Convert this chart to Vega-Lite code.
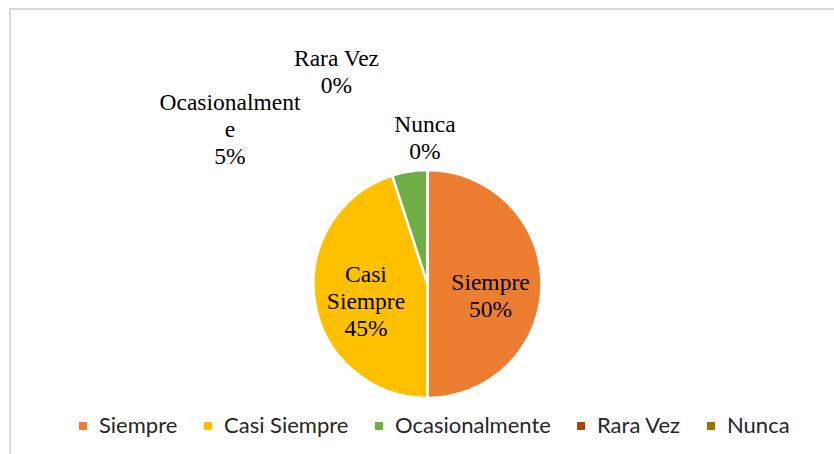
{
  "$schema": "https://vega.github.io/schema/vega-lite/v6.json",
  "width": 824,
  "height": 445,
  "autosize": {"type": "none"},
  "padding": {"left": 10, "top": 9, "right": 0, "bottom": 0},
  "background": "white",
  "config": {"view": {"stroke": null}},
  "data": {
    "values": [
      {"cat": "Siempre", "pct": 50, "order": 1, "label": ["Siempre", "50%"]},
      {"cat": "Casi Siempre", "pct": 45, "order": 2, "label": ["Casi", "Siempre", "45%"]},
      {"cat": "Ocasionalmente", "pct": 5, "order": 3, "label": ["Ocasionalment", "e", "5%"]},
      {"cat": "Rara Vez", "pct": 0, "order": 4, "label": ["Rara Vez", "0%"]},
      {"cat": "Nunca", "pct": 0, "order": 5, "label": ["Nunca", "0%"]}
    ]
  },
  "layer": [
    {
      "data": {"values": [{}]},
      "mark": {"type": "rect", "fill": null, "stroke": "#D9D9D9", "strokeWidth": 2},
      "encoding": {
        "x": {"value": 0},
        "x2": {"value": {"expr": "width + 20"}},
        "y": {"value": 0},
        "y2": {"value": {"expr": "height + 20"}}
      }
    },
    {
      "encoding": {
        "theta": {"field": "pct", "type": "quantitative", "stack": true},
        "order": {"field": "order", "type": "quantitative"},
        "detail": {"field": "cat", "type": "nominal"}
      },
      "layer": [
        {
          "mark": {"type": "arc", "outerRadius": 114, "stroke": "white", "strokeWidth": 2.5, "x": 417.5, "y": 275},
          "encoding": {
            "color": {
              "field": "cat",
              "type": "nominal",
              "scale": {
                "domain": ["Siempre", "Casi Siempre", "Ocasionalmente", "Rara Vez", "Nunca"],
                "range": ["#ED7D31", "#FFC000", "#70AD47", "#9E480E", "#997300"]
              },
              "legend": {
                "orient": "none",
                "legendX": 62,
                "legendY": 406,
                "direction": "horizontal",
                "title": null,
                "symbolType": "square",
                "symbolSize": 64,
                "symbolStrokeWidth": 0,
                "labelFont": "Lato",
                "labelFontSize": 22,
                "labelColor": "#262626",
                "labelOffset": 5,
                "columnPadding": 19,
                "labelLimit": 300
              }
            }
          }
        },
        {
          "mark": {"type": "text", "x": 417.5, "y": 275, "radius": 63, "dy": -1, "font": "Liberation Serif", "fontSize": 23.5, "lineHeight": 27, "baseline": "middle", "align": "center", "fill": "black"},
          "encoding": {"text": {"condition": {"test": "datum.cat === 'Siempre'", "field": "label"}, "value": ""}}
        },
        {
          "mark": {"type": "text", "x": 417.5, "y": 275, "radius": 62, "dx": -0.3, "dy": -18.7, "font": "Liberation Serif", "fontSize": 23.5, "lineHeight": 27, "baseline": "middle", "align": "center", "fill": "black"},
          "encoding": {"text": {"condition": {"test": "datum.cat === 'Casi Siempre'", "field": "label"}, "value": ""}}
        },
        {
          "mark": {"type": "text", "x": 417.5, "y": 275, "radius": 130, "dx": -177.2, "dy": -52.6, "font": "Liberation Serif", "fontSize": 23.5, "lineHeight": 27, "baseline": "middle", "align": "center", "fill": "black"},
          "encoding": {"text": {"condition": {"test": "datum.cat === 'Ocasionalmente'", "field": "label"}, "value": ""}}
        },
        {
          "mark": {"type": "text", "x": 417.5, "y": 275, "radius": 130, "dx": -91, "dy": -95, "font": "Liberation Serif", "fontSize": 23.5, "lineHeight": 27, "baseline": "middle", "align": "center", "fill": "black"},
          "encoding": {"text": {"condition": {"test": "datum.cat === 'Rara Vez'", "field": "label"}, "value": ""}}
        },
        {
          "mark": {"type": "text", "x": 417.5, "y": 275, "radius": 130, "dx": -2.5, "dy": -29, "font": "Liberation Serif", "fontSize": 23.5, "lineHeight": 27, "baseline": "middle", "align": "center", "fill": "black"},
          "encoding": {"text": {"condition": {"test": "datum.cat === 'Nunca'", "field": "label"}, "value": ""}}
        }
      ]
    }
  ]
}
